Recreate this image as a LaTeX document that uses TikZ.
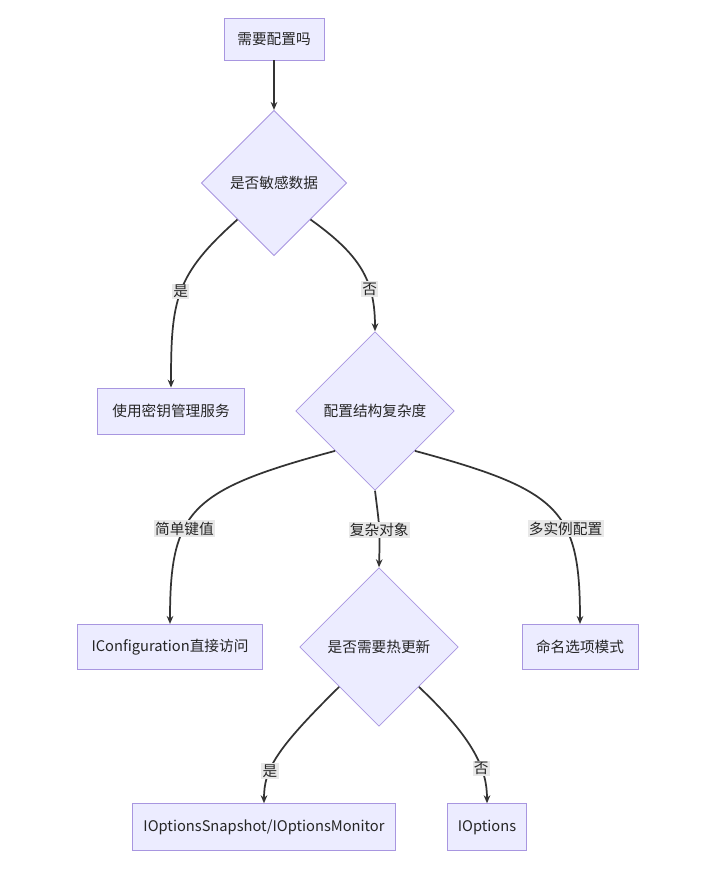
\documentclass[tikz,border=0pt]{standalone}
\usepackage{fontspec}
\setmainfont{Noto Sans CJK SC}
\usetikzlibrary{shapes.geometric,arrows.meta}
\definecolor{nfill}{HTML}{ECECFF}
\definecolor{nline}{HTML}{A896E0}
\definecolor{elab}{HTML}{E8E8E8}
\tikzset{
 box/.style={draw=nline,fill=nfill,line width=0.6pt,inner sep=0,font=\fontsize{11}{13}\selectfont,text=black!85},
 dia/.style={diamond,aspect=1,draw=nline,fill=nfill,line width=0.6pt,inner sep=0,font=\fontsize{11}{13}\selectfont,text=black!85},
 edge/.style={draw=black!80,line width=1.3pt,-{Stealth[length=6pt,width=5pt]}},
 lab/.style={fill=elab,inner sep=1pt,font=\fontsize{11}{13}\selectfont,text=black!85}
}
\begin{document}
\begin{tikzpicture}[x=0.75pt,y=-0.75pt]
\useasboundingbox (0,0) rectangle (708,870);
\node[box,minimum width=75pt,minimum height=31.5pt] (a) at (274,39) {需要配置吗};
\node[dia,minimum width=109pt,minimum height=109pt] (d1) at (274,183) {是否敏感数据};
\node[box,minimum width=110pt,minimum height=34.5pt] (k) at (171,411) {使用密钥管理服务};
\node[dia,minimum width=119pt,minimum height=119pt] (d2) at (375,411) {配置结构复杂度};
\node[box,minimum width=139pt,minimum height=34pt] (ic) at (170,647) {IConfiguration直接访问};
\node[dia,minimum width=119pt,minimum height=119pt] (d3) at (379,647) {是否需要热更新};
\node[box,minimum width=87pt,minimum height=34pt] (nm) at (580,647) {命名选项模式};
\node[box,minimum width=197pt,minimum height=35pt] (snap) at (264,827) {IOptionsSnapshot/IOptionsMonitor};
\node[box,minimum width=59pt,minimum height=35pt] (io) at (487,827) {IOptions};

\draw[edge] (a) -- (d1);
\draw[edge] (d1.south west) .. controls (175,275) and (171,300) .. (k.north) node[lab,pos=0.5] {是};
\draw[edge] (d1.south east) .. controls (360,255) and (375,280) .. (d2.north) node[lab,pos=0.68] {否};
\draw[edge] (d2.south west) .. controls (190,490) and (170,510) .. (ic.north) node[lab,pos=0.62] {简单键值};
\draw[edge] (d2.south) .. controls (380,530) .. (d3.north) node[lab,pos=0.5] {复杂对象};
\draw[edge] (d2.south east) .. controls (560,490) and (580,510) .. (nm.north) node[lab,pos=0.62] {多实例配置};
\draw[edge] (d3.south west) .. controls (275,750) and (264,770) .. (snap.north) node[lab,pos=0.65] {是};
\draw[edge] (d3.south east) .. controls (475,740) and (487,770) .. (io.north) node[lab,pos=0.65] {否};
\end{tikzpicture}
\end{document}
